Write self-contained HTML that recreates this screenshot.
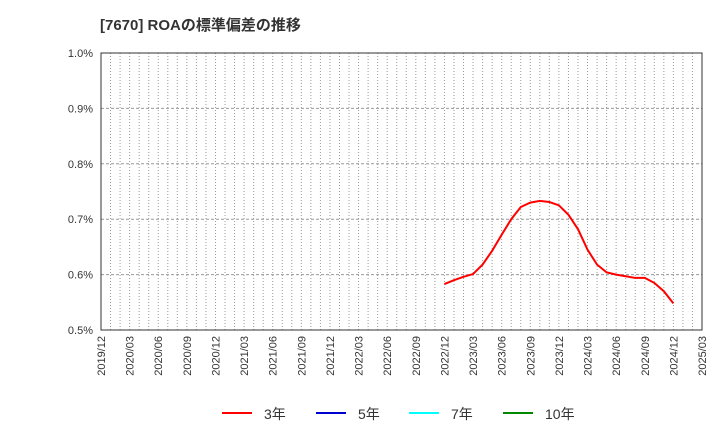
<!DOCTYPE html>
<html><head><meta charset="utf-8"><style>
body{margin:0;background:#fff;font-family:"Liberation Sans","Noto Sans CJK JP",sans-serif}
</style></head><body>
<svg id="c" width="720" height="440" xmlns="http://www.w3.org/2000/svg">
<text x="100" y="30" font-size="15" font-weight="bold" fill="#333" font-family="Liberation Sans, Noto Sans CJK JP, sans-serif">[7670]  ROAの標準偏差の推移</text>
</svg>
<script>
const yTicks=[0.5,0.6,0.7,0.8,0.9,1.0];
const xTickLabels=["2019/12","2020/03","2020/06","2020/09","2020/12","2021/03","2021/06","2021/09","2021/12","2022/03","2022/06","2022/09","2022/12","2023/03","2023/06","2023/09","2023/12","2024/03","2024/06","2024/09","2024/12","2025/03"];
const seriesStartMonth=36; // months after 2019/12 (2022/12)
const series3=[0.583,0.590,0.596,0.601,0.618,0.643,0.672,0.700,0.722,0.730,0.733,0.731,0.725,0.708,0.682,0.645,0.618,0.604,0.600,0.597,0.594,0.594,0.585,0.570,0.548];
const legendNames=["3年","5年","7年","10年"];
const legendColors=["#f00","#00c","#0ff","#080"];
const svg=document.getElementById('c');const NS="http://www.w3.org/2000/svg";
const L=101,R=702,T=53,B=330,months=63;
const xS=m=>L+(R-L)*m/months;
const yS=v=>B-(v-0.5)/0.5*(B-T);
function mk(t,a){const e=document.createElementNS(NS,t);for(const k in a)e.setAttribute(k,a[k]);svg.appendChild(e);return e;}
for(let m=1;m<months;m++){
const g=mk('line',{x1:xS(m),x2:xS(m),y1:T,y2:B,stroke:'#999','stroke-dasharray':'1,2','stroke-width':1});

}
yTicks.forEach(v=>{
const g=mk('line',{x1:L,x2:R,y1:yS(v),y2:yS(v),stroke:'#999','stroke-dasharray':'3,2','stroke-width':1});


const t=mk('text',{x:L-8,y:yS(v)+4,'text-anchor':'end','font-size':11,fill:'#333'});
t.textContent=v.toFixed(1)+'%';

});
const fr=mk('rect',{x:L,y:T,width:R-L,height:B-T,fill:'none',stroke:'#333'});


xTickLabels.forEach((s,i)=>{const x=xS(i*3);
const t=mk('text',{x:x+4,y:B+6,'text-anchor':'end','font-size':11,fill:'#333',transform:`rotate(-90 ${x+4} ${B+6})`});
t.textContent=s;

});
const pts=series3.map((v,i)=>xS(seriesStartMonth+i)+','+yS(v)).join(' ');
const pl=mk('polyline',{points:pts,fill:'none',stroke:'#f00','stroke-width':2});


const lx=[222,316,409,503];
legendNames.forEach((n,i)=>{
const l=mk('line',{x1:lx[i],x2:lx[i]+30,y1:413,y2:413,stroke:legendColors[i],'stroke-width':2});


const t=mk('text',{x:lx[i]+42,y:419,'font-size':14,fill:'#333'});
t.textContent=n;

});
</script>
</body></html>
